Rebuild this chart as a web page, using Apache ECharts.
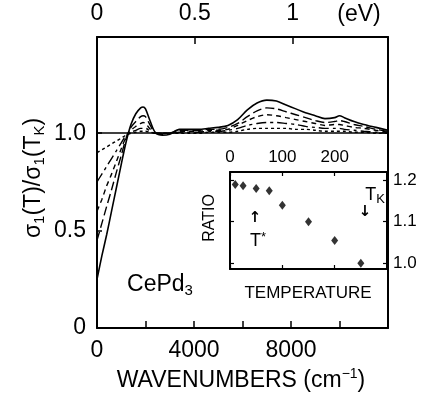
<!DOCTYPE html>
<html><head><meta charset="utf-8">
<script src="https://cdn.jsdelivr.net/npm/echarts@6/dist/echarts.min.js"></script>
<style>html,body{margin:0;padding:0;background:#fff}#c{width:422px;height:401px}</style>
</head><body><div id="c"></div>
<script>
// ---- main panel data (wavenumber in cm^-1, ratio sigma1(T)/sigma1(TK)) ----
const wavenumbers = [0,200,400,600,800,1000,1200,1400,1600,1800,1900,2000,2200,2400,2700,3000,3400,3800,4200,4600,5000,5400,5800,6200,6600,7000,7400,7800,8200,8600,9000,9400,9800,10000,10200,10600,11000,11500,12000];
const curveSolid = [0.25,0.37,0.48,0.60,0.72,0.84,0.955,1.045,1.10,1.13,1.135,1.125,1.06,1.005,0.99,0.995,1.02,1.02,1.02,1.025,1.03,1.04,1.07,1.12,1.155,1.17,1.165,1.145,1.125,1.105,1.09,1.075,1.08,1.09,1.08,1.06,1.045,1.03,1.015];
const curveDash1 = [0.45,0.537,0.625,0.71,0.80,0.886,0.974,1.03,1.06,1.085,1.09,1.085,1.04,1.0,0.995,1.0,1.015,1.015,1.015,1.02,1.02,1.03,1.05,1.085,1.115,1.13,1.125,1.11,1.095,1.08,1.065,1.055,1.06,1.065,1.06,1.045,1.035,1.02,1.01];
const curveDash2 = [0.60,0.66,0.73,0.79,0.855,0.92,0.98,1.015,1.035,1.05,1.055,1.05,1.02,1.0,1.0,1.0,1.01,1.01,1.01,1.015,1.015,1.02,1.04,1.065,1.085,1.095,1.09,1.08,1.07,1.06,1.05,1.04,1.045,1.045,1.04,1.03,1.025,1.015,1.005];
const curveDash3 = [0.75,0.79,0.83,0.87,0.91,0.95,0.99,1.005,1.015,1.025,1.025,1.025,1.01,1.0,1.0,1.0,1.005,1.005,1.005,1.01,1.01,1.015,1.025,1.04,1.05,1.055,1.055,1.05,1.045,1.035,1.03,1.025,1.025,1.025,1.02,1.015,1.01,1.005,1.0];
const curveDash4 = [0.90,0.915,0.93,0.945,0.96,0.975,0.99,1.0,1.005,1.01,1.01,1.01,1.005,1.0,1.0,1.0,1.0,1.0,1.0,1.005,1.005,1.005,1.01,1.02,1.025,1.025,1.025,1.025,1.02,1.02,1.015,1.01,1.01,1.01,1.01,1.005,1.005,1.0,1.0];
const xTickLabels = [0,4000,8000];
const yTickLabels = {0:'0',0.5:'0.5',1:'1.0'};
const eVTickLabels = {0:'0',0.5:'0.5',1:'1'};
// ---- inset data ----
const temperatures = [10,25,50,75,100,150,200,250];
const ratios = [1.19,1.187,1.18,1.175,1.14,1.10,1.055,1.0];
const insetXLabels = [0,100,200];
const insetYLabels = [1.0,1.1,1.2];

const FF = '"Liberation Sans", Arial, Helvetica, sans-serif';
const BLACK = '#000';
const CM_PER_EV = 8065.54;

function zip(xs, ys){ return xs.map((x,i)=>[x, ys[i]]); }

const chart = echarts.init(document.getElementById('c'), null, {renderer:'canvas'});

const lineBase = {type:'line', xAxisIndex:0, yAxisIndex:0, showSymbol:false, symbol:'none', smooth:0.3, silent:true, z:3};
const mainLine = {show:true, onZero:false, lineStyle:{color:BLACK, width:2}};
const insetLine = {show:true, onZero:false, lineStyle:{color:BLACK, width:2}};

const option = {
  animation:false,
  backgroundColor:'#fff',
  grid:[
    {left:97, top:37, width:291, height:291, outerBoundsMode:'none', containLabel:false},
    {left:230, top:172, width:157, height:97, outerBoundsMode:'none', containLabel:false}
  ],
  xAxis:[
    {gridIndex:0, type:'value', position:'bottom', min:0, max:12000, interval:2000,
     axisLine:mainLine, splitLine:{show:false},
     axisTick:{inside:true, length:7, lineStyle:{color:BLACK, width:1.5}},
     axisLabel:{margin:11, fontSize:23, color:BLACK, fontFamily:FF, showMaxLabel:false,
       formatter:v=> xTickLabels.includes(v) ? String(v) : ''}},
    {gridIndex:0, type:'value', position:'top', min:0, max:12000/CM_PER_EV, interval:0.5,
     axisLine:mainLine, splitLine:{show:false},
     axisTick:{inside:true, length:7, lineStyle:{color:BLACK, width:1.5}},
     axisLabel:{margin:12, fontSize:23, color:BLACK, fontFamily:FF, showMaxLabel:false,
       formatter:v=> (v in eVTickLabels) ? eVTickLabels[v] : ''}},
    {gridIndex:1, type:'value', position:'top', min:0, max:300, interval:100,
     axisLine:insetLine, splitLine:{show:false},
     axisTick:{inside:true, length:4, lineStyle:{color:BLACK, width:1.2}},
     axisLabel:{margin:6, fontSize:17, color:BLACK, fontFamily:FF, showMaxLabel:false,
       formatter:v=> insetXLabels.includes(v) ? String(v) : ''}},
    {gridIndex:1, type:'value', position:'bottom', min:0, max:300, interval:100,
     axisLine:insetLine, splitLine:{show:false},
     axisTick:{inside:true, length:4, lineStyle:{color:BLACK, width:1.2}},
     axisLabel:{show:false}}
  ],
  yAxis:[
    {gridIndex:0, type:'value', position:'left', min:0, max:1.494, interval:0.5,
     axisLine:mainLine, splitLine:{show:false},
     axisTick:{inside:true, length:5, lineStyle:{color:BLACK, width:1.5}},
     axisLabel:{margin:11, fontSize:23, color:BLACK, fontFamily:FF, showMaxLabel:false,
       formatter:v=> (v in yTickLabels) ? yTickLabels[v] : ''}},
    {gridIndex:0, type:'value', position:'right', min:0, max:1.494, interval:0.5,
     axisLine:mainLine, splitLine:{show:false},
     axisTick:{show:false}, axisLabel:{show:false}},
    {gridIndex:1, type:'value', position:'right', min:0.986, max:1.22,
     axisLine:insetLine, splitLine:{show:false},
     axisTick:{inside:true, length:4, lineStyle:{color:BLACK, width:1.2}, customValues:insetYLabels},
     axisLabel:{margin:6, fontSize:17, color:BLACK, fontFamily:FF, customValues:insetYLabels,
       formatter:v=> v.toFixed(1)}},
    {gridIndex:1, type:'value', position:'left', min:0.986, max:1.22,
     axisLine:insetLine, splitLine:{show:false},
     axisTick:{inside:true, length:4, lineStyle:{color:BLACK, width:1.2}, customValues:insetYLabels},
     axisLabel:{show:false}}
  ],
  series:[
    Object.assign({}, lineBase, {name:'solid', data:zip(wavenumbers, curveSolid), lineStyle:{color:BLACK, width:1.6, type:'solid'},
      markLine:{silent:true, symbol:['none','none'], label:{show:false}, lineStyle:{color:BLACK, width:1.6, type:'solid'}, data:[{yAxis:1}]}}),
    Object.assign({}, lineBase, {name:'d1', data:zip(wavenumbers, curveDash1), lineStyle:{color:BLACK, width:1.4, type:[9,4]}}),
    Object.assign({}, lineBase, {name:'d2', data:zip(wavenumbers, curveDash2), lineStyle:{color:BLACK, width:1.4, type:[5,4]}}),
    Object.assign({}, lineBase, {name:'d3', data:zip(wavenumbers, curveDash3), lineStyle:{color:BLACK, width:1.4, type:[10,4,3,4]}}),
    Object.assign({}, lineBase, {name:'d4', data:zip(wavenumbers, curveDash4), lineStyle:{color:BLACK, width:1.4, type:[3,3]}}),
    {type:'scatter', xAxisIndex:2, yAxisIndex:2, data:zip(temperatures, ratios), symbol:'diamond', symbolSize:[7,9],
     itemStyle:{color:BLACK}, silent:true, z:5}
  ],
  graphic:[
    {type:'text', x:359, y:15, style:{text:'(eV)', font:'23px '+FF, fill:BLACK, align:'center', verticalAlign:'middle'}},
    {type:'text', x:241, y:381, style:{
      text:'{m|WAVENUMBERS (cm}{s|−1}{m|)}', align:'center', verticalAlign:'middle', fill:BLACK,
      rich:{m:{fontSize:23, fontFamily:FF, lineHeight:27, fill:BLACK}, s:{fontSize:14, fontFamily:FF, lineHeight:14, verticalAlign:'top', fill:BLACK}}}},
    {type:'text', x:34, y:178, rotation:Math.PI/2, style:{
      text:'{m|σ}{s|1}{m|(T)/σ}{s|1}{m|(T}{s|K}{m|)}', align:'center', verticalAlign:'middle', fill:BLACK,
      rich:{m:{fontSize:23, fontFamily:FF, lineHeight:27, fill:BLACK}, s:{fontSize:15, fontFamily:FF, lineHeight:15, verticalAlign:'bottom', fill:BLACK}}}},
    {type:'text', x:160, y:285, style:{
      text:'{m|CePd}{s|3}', align:'center', verticalAlign:'middle', fill:BLACK,
      rich:{m:{fontSize:23, fontFamily:FF, lineHeight:27, fill:BLACK}, s:{fontSize:15, fontFamily:FF, lineHeight:15, verticalAlign:'bottom', fill:BLACK}}}},
    {type:'text', x:210, y:218, rotation:Math.PI/2, style:{text:'RATIO', font:'16px '+FF, fill:BLACK, align:'center', verticalAlign:'middle'}},
    {type:'text', x:308, y:293, style:{text:'TEMPERATURE', font:'17px '+FF, fill:BLACK, align:'center', verticalAlign:'middle'}},
    {type:'text', x:255, y:218, style:{text:'↑', font:'bold 15px "DejaVu Sans", sans-serif', fill:BLACK, align:'center', verticalAlign:'middle'}},
    {type:'text', x:258, y:241, style:{
      text:'{m|T}{s|*}', align:'center', verticalAlign:'middle', fill:BLACK,
      rich:{m:{fontSize:18, fontFamily:FF, lineHeight:21, fill:BLACK}, s:{fontSize:13, fontFamily:FF, lineHeight:13, verticalAlign:'top', fill:BLACK}}}},
    {type:'text', x:375, y:195, style:{
      text:'{m|T}{s|K}', align:'center', verticalAlign:'middle', fill:BLACK,
      rich:{m:{fontSize:18, fontFamily:FF, lineHeight:21, fill:BLACK}, s:{fontSize:13, fontFamily:FF, lineHeight:13, verticalAlign:'bottom', fill:BLACK}}}},
    {type:'text', x:365, y:212, style:{text:'↓', font:'bold 15px "DejaVu Sans", sans-serif', fill:BLACK, align:'center', verticalAlign:'middle'}}
  ]
};
chart.setOption(option);
</script></body></html>
